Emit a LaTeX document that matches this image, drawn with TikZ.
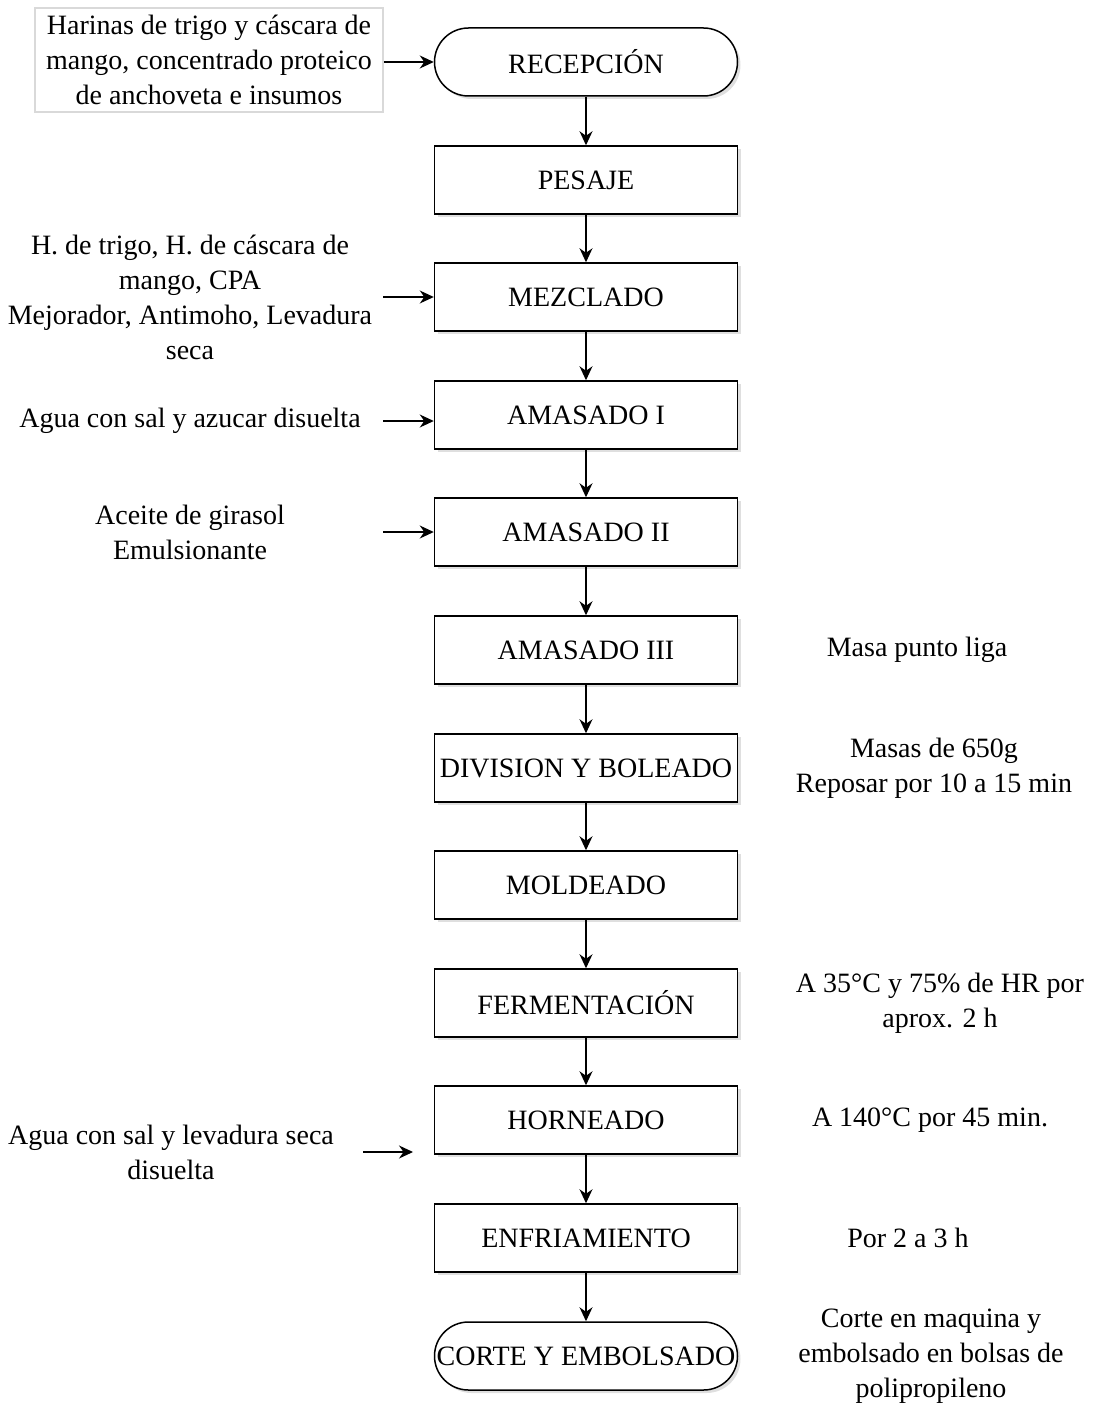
\documentclass[tikz,border=0pt]{standalone}
\usepackage{fontspec}
\setmainfont{Liberation Serif}
\usetikzlibrary{arrows.meta, positioning, shadows}

\tikzset{
  procbox/.style={draw, line width=0.75pt, fill=white, minimum width=151.5pt,
    minimum height=34pt, inner sep=1pt, font=\fontsize{14}{17.5}\selectfont,
    drop shadow={opacity=0.25, shadow xshift=1.5pt, shadow yshift=-1.5pt}},
  termbox/.style={procbox, rounded corners=17pt},
  flow/.style={-{Stealth[length=7pt, width=6.5pt]}, line width=0.6pt},
  note/.style={align=center, inner sep=0pt, font=\fontsize{14}{17.5}\selectfont},
}

\begin{document}
\begin{tikzpicture}[x=0.5pt, y=-0.5pt]
    \useasboundingbox (0,0) rectangle (1096,1407);

    % Draw the process chain
    \node[termbox] (rec) at (586,62) {RECEPCIÓN};
    \foreach \name/\y/\txt in {pes/180/PESAJE, mez/297/MEZCLADO, amI/415/AMASADO I,
        amII/532/AMASADO II, amIII/650/AMASADO III, div/768/DIVISION Y BOLEADO,
        mol/885/MOLDEADO, fer/1003/FERMENTACIÓN, hor/1120/HORNEADO,
        enf/1238/ENFRIAMIENTO} {
        \node[procbox] (\name) at (586,\y) {\txt};
    }
    \node[termbox] (cor) at (586,1356) {CORTE Y EMBOLSADO};

    % Connect the steps
    \foreach \a/\b in {rec/pes, pes/mez, mez/amI, amI/amII, amII/amIII, amIII/div,
        div/mol, mol/fer, fer/hor, hor/enf, enf/cor} {
        \draw[flow] (\a) -- (\b);
    }

    % Inputs on the left
    \node[note, draw=black!15, line width=0.75pt, minimum width=174pt, minimum height=52pt]
        (harinas) at (209,60) {Harinas de trigo y cáscara de\\mango, concentrado proteico\\de anchoveta e insumos};
    \draw[flow] (harinas.east |- rec) -- (rec.west);

    \node[note] (mezin) at (190,297) {H. de trigo, H. de cáscara de\\mango, CPA\\Mejorador, Antimoho, Levadura\\seca};
    \coordinate (mezstart) at (383,297);
    \draw[flow] (mezstart) -- (mez.west);

    \node[note] (aguain) at (190,421) {Agua con sal y azucar disuelta};
    \coordinate (amIstart) at (383,421);
    \draw[flow] (amIstart) -- (amIstart -| amI.west);

    \node[note] (aceitein) at (190,532) {Aceite de girasol\\Emulsionante};
    \coordinate (amIIstart) at (383,532);
    \draw[flow] (amIIstart) -- (amII.west);

    \node[note] (levin) at (171,1152) {Agua con sal y levadura seca\\disuelta};
    \coordinate (horstart) at (363,1152);
    \coordinate (horend) at (413,1152);
    \draw[flow] (horstart) -- (horend);

    % Conditions on the right
    \node[note] (ligaout) at (917,650) {Masa punto liga};
    \node[note] (divout) at (934,768) {Masas de 650g\\Reposar por 10 a 15 min};
    \node[note] (ferout) at (940,1003) {A 35°C y 75\% de HR por\\aprox. 2 h};
    \node[note] (horout) at (930,1120) {A 140°C por 45 min.};
    \node[note] (enfout) at (908,1238) {Por 2 a 3 h};
    \node[note] (corout) at (931,1356) {Corte en maquina y\\embolsado en bolsas de\\polipropileno};
\end{tikzpicture}
\end{document}
